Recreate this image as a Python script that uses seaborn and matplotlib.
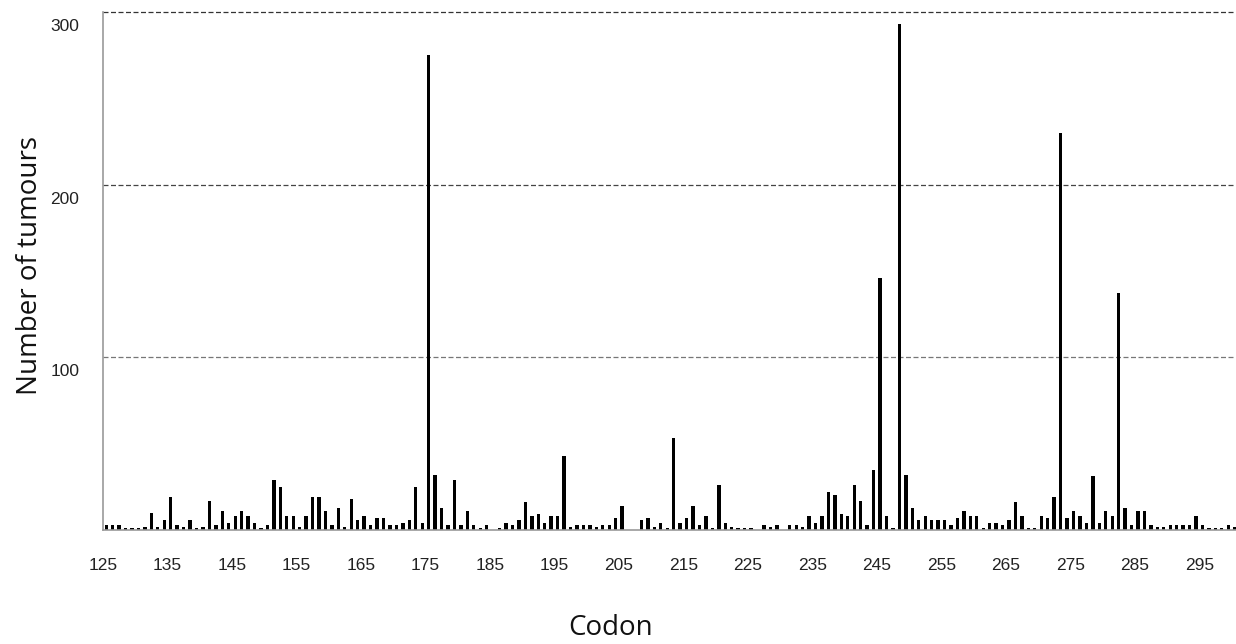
import numpy as np
import pandas as pd
import seaborn as sns
import matplotlib.pyplot as plt
import matplotlib.transforms as mtransforms

# codons 125..300 and tumour counts
codons = list(range(125, 301))
counts = [
    3, 3, 3, 1, 1, 1, 2, 10, 2, 6,          # 125-134
    19, 3, 2, 6, 1, 2, 17, 3, 11, 4,        # 135-144
    8, 11, 8, 4, 1, 3, 29, 25, 8, 8,        # 145-154
    2, 8, 19, 19, 11, 3, 13, 2, 18, 6,      # 155-164
    8, 3, 7, 7, 3, 3, 4, 6, 25, 4,          # 165-174
    275, 32, 13, 3, 29, 3, 11, 3, 1, 3,     # 175-184
    0, 1, 4, 3, 6, 16, 8, 9, 4, 8,          # 185-194
    8, 43, 2, 3, 3, 3, 2, 3, 3, 7,          # 195-204
    14, 0, 0, 6, 7, 2, 4, 1, 53, 4,         # 205-214
    7, 14, 3, 8, 1, 26, 4, 2, 1, 1,         # 215-224
    1, 0, 3, 2, 3, 0, 3, 3, 2, 8,           # 225-234
    4, 8, 22, 20, 9, 8, 26, 17, 3, 35,      # 235-244
    146, 8, 1, 293, 32, 13, 6, 8, 6, 6,     # 245-254
    6, 3, 7, 11, 8, 8, 1, 4, 4, 3,          # 255-264
    6, 16, 8, 1, 1, 8, 7, 19, 230, 7,       # 265-274
    11, 8, 4, 31, 4, 11, 8, 137, 13, 3,     # 275-284
    11, 11, 3, 2, 2, 3, 3, 3, 3, 8,         # 285-294
    3, 1, 1, 1, 3, 2,                       # 295-300
]
tick_labels = ['125', '135', '145', '155', '165', '175', '185', '195', '205',
               '215', '225', '235', '245', '255', '265', '275', '285', '295']
y_labels = ['100', '200', '300']

df = pd.DataFrame({'codon': codons, 'count': counts})

sns.set_style('white')
plt.rcParams['font.family'] = ['Liberation Sans', 'DejaVu Sans']

fig = plt.figure(figsize=(12.36, 6.44), dpi=100)
ax = fig.add_axes([103 / 1236, 1 - 530 / 644, 1 - 103 / 1236, (530 - 12) / 644])

sns.barplot(data=df, x='codon', y='count', native_scale=True, color='black',
            width=0.52, saturation=1, edgecolor='none', ax=ax)

ax.set_xlim(124.5, 300.2)
ax.set_ylim(0, 300)

# dashed gridlines
for yv, col in [(100, '#777777'), (200, '#444444'), (300, '#333333')]:
    ax.axhline(yv, color=col, lw=0.9, ls=(0, (4, 2)), zorder=0, clip_on=False)

ax.set_xticks([int(t) - 0.5 for t in tick_labels])
ax.set_xticklabels(tick_labels, fontsize=12.5, color='#222222')
ax.set_yticks([50, 100, 150, 200, 250, 300])
ax.set_yticklabels(['', y_labels[0], '', y_labels[1], '', y_labels[2]],
                   fontsize=12.5, color='#222222')
ax.tick_params(axis='x', direction='out', length=4, width=1, color='#999999', pad=16)
ax.tick_params(axis='y', direction='inout', length=10, width=1, color='#999999', pad=12)

# push y labels a little below their gridlines
offset = mtransforms.ScaledTranslation(0, -0.13, fig.dpi_scale_trans)
for lab in ax.get_yticklabels():
    lab.set_transform(lab.get_transform() + offset)

for side in ['top', 'right']:
    ax.spines[side].set_visible(False)
for side in ['left', 'bottom']:
    ax.spines[side].set_color('#999999')
    ax.spines[side].set_linewidth(1.2)

ax.set_xlabel('')
ax.set_ylabel('')
fig.text(611 / 1236, 1 - 628 / 644, 'Codon', fontsize=20, family='Open Sans',
         ha='center', va='center', color='#111111')
fig.text(30 / 1236, 1 - 265 / 644, 'Number of tumours', fontsize=20, family='Open Sans',
         ha='center', va='center', rotation=90, color='#111111')

fig.savefig('out.png', dpi=100)
